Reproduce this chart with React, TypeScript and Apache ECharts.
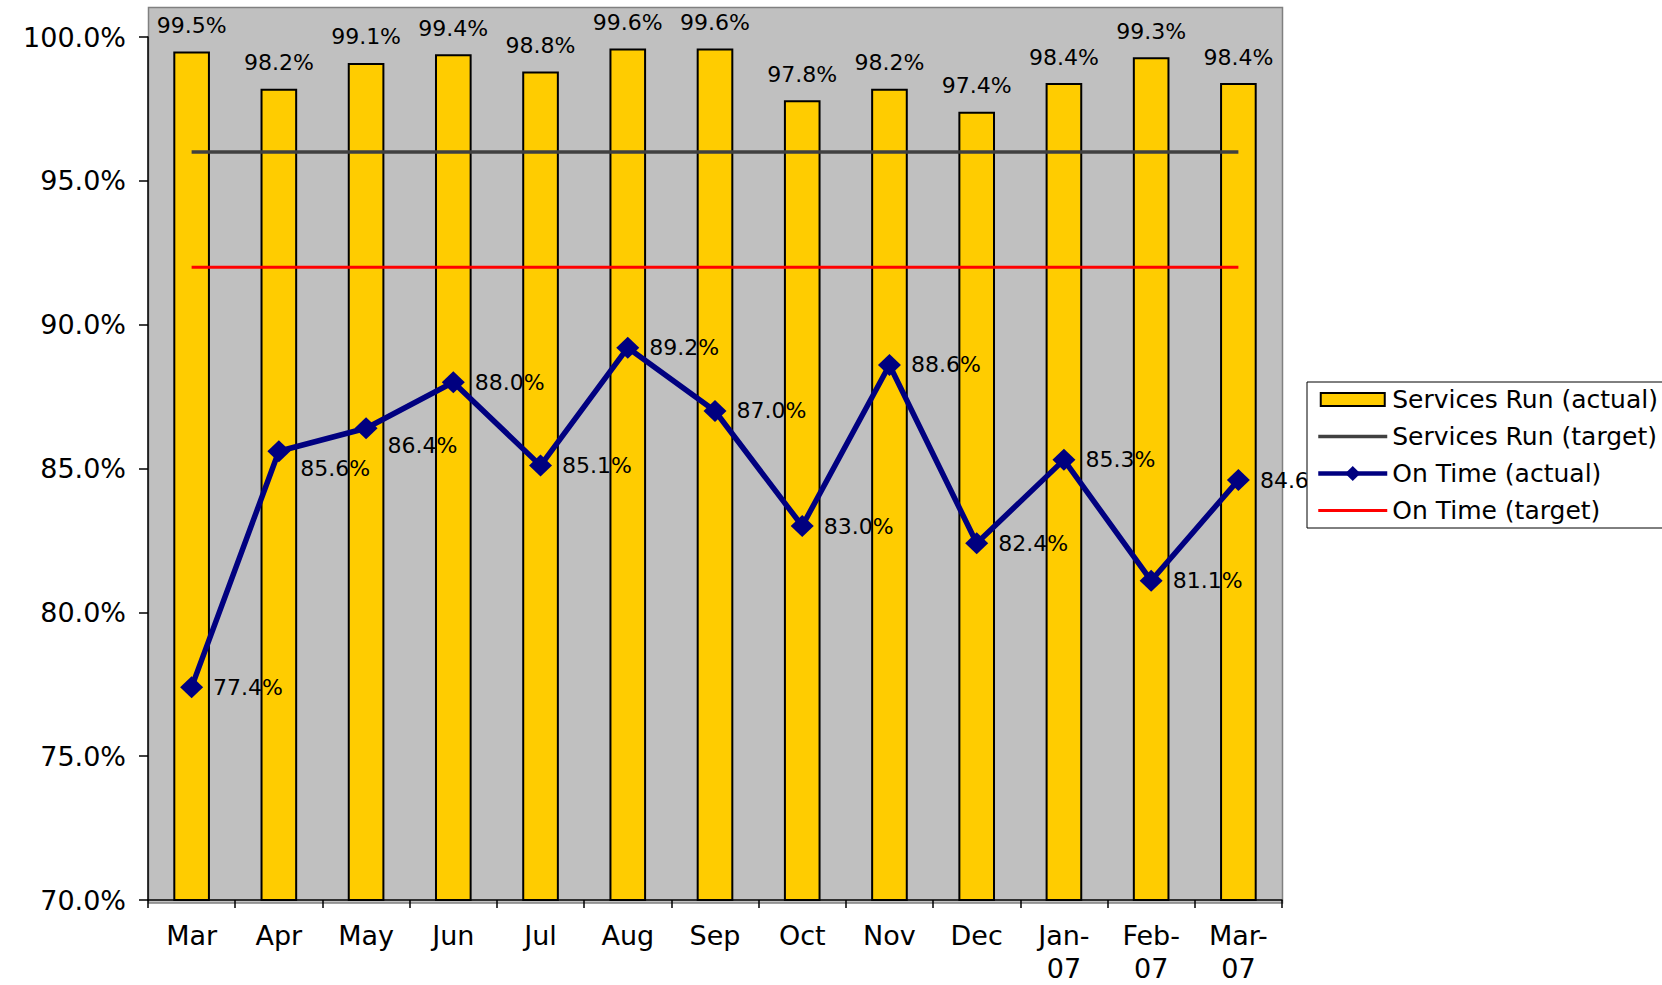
import React, { useEffect, useRef } from "react";
import * as echarts from "echarts";

const categories = ["Mar", "Apr", "May", "Jun", "Jul", "Aug", "Sep", "Oct", "Nov", "Dec", "Jan-\n07", "Feb-\n07", "Mar-\n07"];
const servicesRunActual = [99.5, 98.2, 99.1, 99.4, 98.8, 99.6, 99.6, 97.8, 98.2, 97.4, 98.4, 99.3, 98.4];
const servicesRunTarget = [96.0, 96.0, 96.0, 96.0, 96.0, 96.0, 96.0, 96.0, 96.0, 96.0, 96.0, 96.0, 96.0];
const onTimeActual = [77.4, 85.6, 86.4, 88.0, 85.1, 89.2, 87.0, 83.0, 88.6, 82.4, 85.3, 81.1, 84.6];
const onTimeTarget = [92.0, 92.0, 92.0, 92.0, 92.0, 92.0, 92.0, 92.0, 92.0, 92.0, 92.0, 92.0, 92.0];
const yMin = 70;
const yMax = 100;
const yInterval = 5;

const FONT = "DejaVu Sans";
// indices of On Time labels that sit a little lower in the original
const loweredLabels = [1, 2];

export default function App() {
  const ref = useRef<HTMLDivElement>(null);
  useEffect(() => {
    if (!ref.current) return;
    const chart = echarts.init(ref.current, null, { renderer: "svg" });
    const pct = (v: number) => v.toFixed(1) + "%";
    const hidden = { color: "rgba(0,0,0,0)", borderWidth: 0, opacity: 0 };
    chart.setOption({
      animation: false,
      backgroundColor: "#ffffff",
      graphic: [
        {
          type: "rect",
          z: -10,
          zlevel: 0,
          shape: { x: 148.5, y: 7.5, width: 1134, height: 895.5 },
          style: { fill: "#C0C0C0", stroke: "#808080", lineWidth: 1.5 },
          silent: true,
        },
      ],
      grid: { left: 148, right: 380, top: 37, bottom: 82, containLabel: false },
      legend: {
        orient: "vertical",
        left: 1307,
        top: 382,
        itemWidth: 69,
        itemHeight: 19,
        itemGap: 12,
        padding: [5, 9, 5, 9],
        backgroundColor: "#ffffff",
        borderColor: "#000000",
        borderWidth: 1,
        textStyle: { fontFamily: FONT, fontSize: 25, color: "#000" },
        data: [
          {
            name: "Services Run (actual)",
            icon: "path://M0,0L0,0M2.5,3L66.5,3L66.5,16L2.5,16ZM69,19L69,19",
          },
          {
            name: "Services Run (target)",
            itemStyle: hidden,
            lineStyle: { width: 3.5, color: "#404040" },
          },
          {
            name: "On Time (actual)",
            lineStyle: { width: 4.5, color: "#000080" },
          },
          {
            name: "On Time (target)",
            itemStyle: hidden,
            lineStyle: { width: 3, color: "#FF0000" },
          },
        ],
      },
      xAxis: {
        type: "category",
        data: categories,
        boundaryGap: true,
        axisLine: { lineStyle: { color: "#000", width: 1.5 } },
        axisTick: { show: true, length: 8, interval: 0, lineStyle: { color: "#000", width: 1.5 } },
        axisLabel: {
          interval: 0,
          margin: 19,
          fontFamily: FONT,
          fontSize: 27,
          lineHeight: 33,
          color: "#000",
        },
      },
      yAxis: {
        type: "value",
        min: yMin,
        max: yMax,
        interval: yInterval,
        splitLine: { show: false },
        axisLine: { show: true, lineStyle: { color: "#000", width: 1.5 } },
        axisTick: { show: true, length: 9, lineStyle: { color: "#000", width: 1.5 } },
        axisLabel: {
          margin: 22,
          fontFamily: FONT,
          fontSize: 27,
          color: "#000",
          formatter: (v: number) => pct(v),
        },
      },
      series: [
        {
          name: "Services Run (actual)",
          type: "bar",
          data: servicesRunActual,
          barWidth: "42%",
          itemStyle: { color: "#FFCC00", borderColor: "#000", borderWidth: 2 },
          label: {
            show: true,
            position: "top",
            distance: 15,
            fontFamily: FONT,
            fontSize: 22,
            color: "#000",
            formatter: (p: any) => pct(p.value),
          },
        },
        {
          name: "Services Run (target)",
          type: "line",
          data: servicesRunTarget,
          symbol: "none",
          lineStyle: { color: "#404040", width: 3.5 },
          itemStyle: { color: "#404040" },
        },
        {
          name: "On Time (actual)",
          type: "line",
          data: onTimeActual.map((v, i) =>
            loweredLabels.includes(i) ? { value: v, label: { offset: [0, 17] } } : v
          ),
          symbol: "diamond",
          symbolSize: [23, 22],
          lineStyle: { color: "#000080", width: 5.5 },
          itemStyle: { color: "#000080" },
          label: {
            show: true,
            position: "right",
            distance: 10,
            fontFamily: FONT,
            fontSize: 22,
            color: "#000",
            formatter: (p: any) => pct(p.value),
          },
          z: 3,
        },
        {
          name: "On Time (target)",
          type: "line",
          data: onTimeTarget,
          symbol: "none",
          lineStyle: { color: "#FF0000", width: 3 },
          itemStyle: { color: "#FF0000" },
        },
      ],
    });
    return () => chart.dispose();
  }, []);
  return <div ref={ref} style={{ position: "fixed", left: 0, top: 0, width: 1662, height: 985 }} />;
}
